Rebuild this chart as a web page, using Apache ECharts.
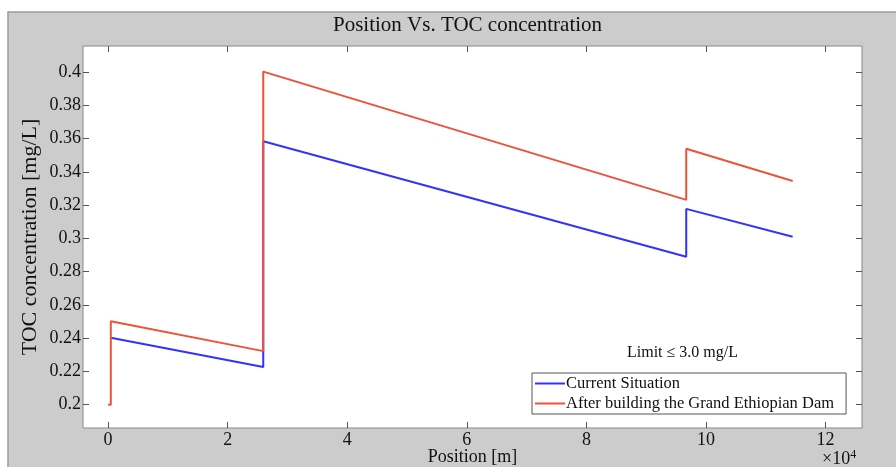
<!DOCTYPE html>
<html>
<head>
<meta charset="utf-8">
<script src="https://cdn.jsdelivr.net/npm/echarts@6/dist/echarts.min.js"></script>
<style>
  html, body { margin: 0; padding: 0; background: #fff; }
  #toc { width: 896px; height: 467px; }
</style>
</head>
<body>
<div id="toc"></div>
<script>
// position along the river [m] and TOC concentration [mg/L]
var currentX = [450, 25950, 25950, 96700, 96700, 114500];
var currentY = [0.2402, 0.2226, 0.3583, 0.2889, 0.3177, 0.3009];
var damX = [0, 450, 450, 25950, 25950, 96700, 96700, 114500];
var damY = [0.2, 0.2, 0.2502, 0.2322, 0.4002, 0.3231, 0.3538, 0.3345];
var xTicks = [0, 20000, 40000, 60000, 80000, 100000, 120000];
var yTicks = [0.2, 0.22, 0.24, 0.26, 0.28, 0.3, 0.32, 0.34, 0.36, 0.38, 0.4];

function pairs(xs, ys) {
  return xs.map(function (x, i) { return [x, ys[i]]; });
}

var dom = document.getElementById('toc');
var myChart = echarts.init(dom, null, { renderer: 'canvas' });

var serif = '"Liberation Serif", "DejaVu Serif", serif';
var tickStyle = { color: '#555', width: 1 };

var option = {
  backgroundColor: '#fff',
  animation: false,
  textStyle: { fontFamily: serif },
  graphic: [
    {
      type: 'rect', z: -10, silent: true,
      shape: { x: 8, y: 12, width: 900, height: 470 },
      style: { fill: '#cccccc', stroke: '#9a9a9a', lineWidth: 1.5 }
    },
    {
      type: 'text', left: 333, top: 15, z: 5,
      style: { text: 'Position Vs. TOC concentration', font: '21px ' + serif, fill: '#111' }
    },
    {
      type: 'text', left: 627, top: 345, z: 5,
      style: { text: 'Limit \u2264 3.0 mg/L', font: '16px ' + serif, fill: '#111' }
    },
    {
      type: 'text', left: 822, top: 449, z: 5,
      style: {
        text: '\u00d710{s|4}', font: '18px ' + serif, fill: '#111',
        rich: { s: { fontSize: 12, fontFamily: serif, verticalAlign: 'top', padding: [0, 0, 8, 0] } }
      }
    }
  ],
  grid: {
    left: 83, right: 34, top: 46, bottom: 39,
    outerBoundsMode: 'none',
    show: true, backgroundColor: '#fff', borderColor: '#888', borderWidth: 1
  },
  legend: {
    orient: 'vertical',
    left: 532, top: 373,
    data: ['Current Situation', 'After building the Grand Ethiopian Dam'],
    icon: 'rect', itemWidth: 30, itemHeight: 2, itemGap: 3,
    padding: [2, 12, 2, 3],
    backgroundColor: '#fff', borderColor: '#555', borderWidth: 1,
    textStyle: { fontFamily: serif, fontSize: 16.5, color: '#111', padding: [0, 0, 0, -4] }
  },
  xAxis: [
    {
      type: 'value', min: -4200, max: 126100,
      name: 'Position [m]', nameLocation: 'middle', nameGap: 20, nameMoveOverlap: false,
      nameTextStyle: { fontFamily: serif, fontSize: 18, color: '#111' },
      splitLine: { show: false },
      axisLine: { show: false, onZero: false },
      axisTick: { show: true, inside: true, length: 6, lineStyle: tickStyle, customValues: xTicks },
      axisLabel: {
        customValues: xTicks, margin: 3, fontFamily: serif, fontSize: 18, color: '#111',
        formatter: function (v) { return String(v / 10000); }
      }
    },
    {
      type: 'value', position: 'top', min: -4200, max: 126100,
      splitLine: { show: false }, axisLine: { show: false, onZero: false },
      axisTick: { show: true, inside: true, length: 6, lineStyle: tickStyle, customValues: xTicks },
      axisLabel: { show: false }
    }
  ],
  yAxis: [
    {
      type: 'value', min: 0.186, max: 0.4156,
      name: 'TOC concentration [mg/L]', nameLocation: 'middle', nameGap: 42, nameMoveOverlap: false,
      nameTextStyle: { fontFamily: serif, fontSize: 22, color: '#111' },
      splitLine: { show: false }, axisLine: { show: false, onZero: false },
      axisTick: { show: true, inside: true, length: 6, lineStyle: tickStyle, customValues: yTicks },
      axisLabel: {
        customValues: yTicks, margin: 2, fontFamily: serif, fontSize: 18, color: '#111',
        formatter: function (v) { return String(Math.round(v * 100) / 100); }
      }
    },
    {
      type: 'value', position: 'right', min: 0.186, max: 0.4156,
      splitLine: { show: false }, axisLine: { show: false, onZero: false },
      axisTick: { show: true, inside: true, length: 6, lineStyle: tickStyle, customValues: yTicks },
      axisLabel: { show: false }
    }
  ],
  series: [
    {
      name: 'Current Situation', type: 'line',
      data: pairs(currentX, currentY),
      symbol: 'none', color: '#3232ff',
      lineStyle: { width: 2, color: '#3232ff' }
    },
    {
      name: 'After building the Grand Ethiopian Dam', type: 'line',
      data: pairs(damX, damY),
      symbol: 'none', color: '#ec5338',
      lineStyle: { width: 2, color: '#ec5338' }
    }
  ]
};

if (option && typeof option === 'object') {
  myChart.setOption(option);
}

window.addEventListener('resize', myChart.resize);
</script>
</body>
</html>
